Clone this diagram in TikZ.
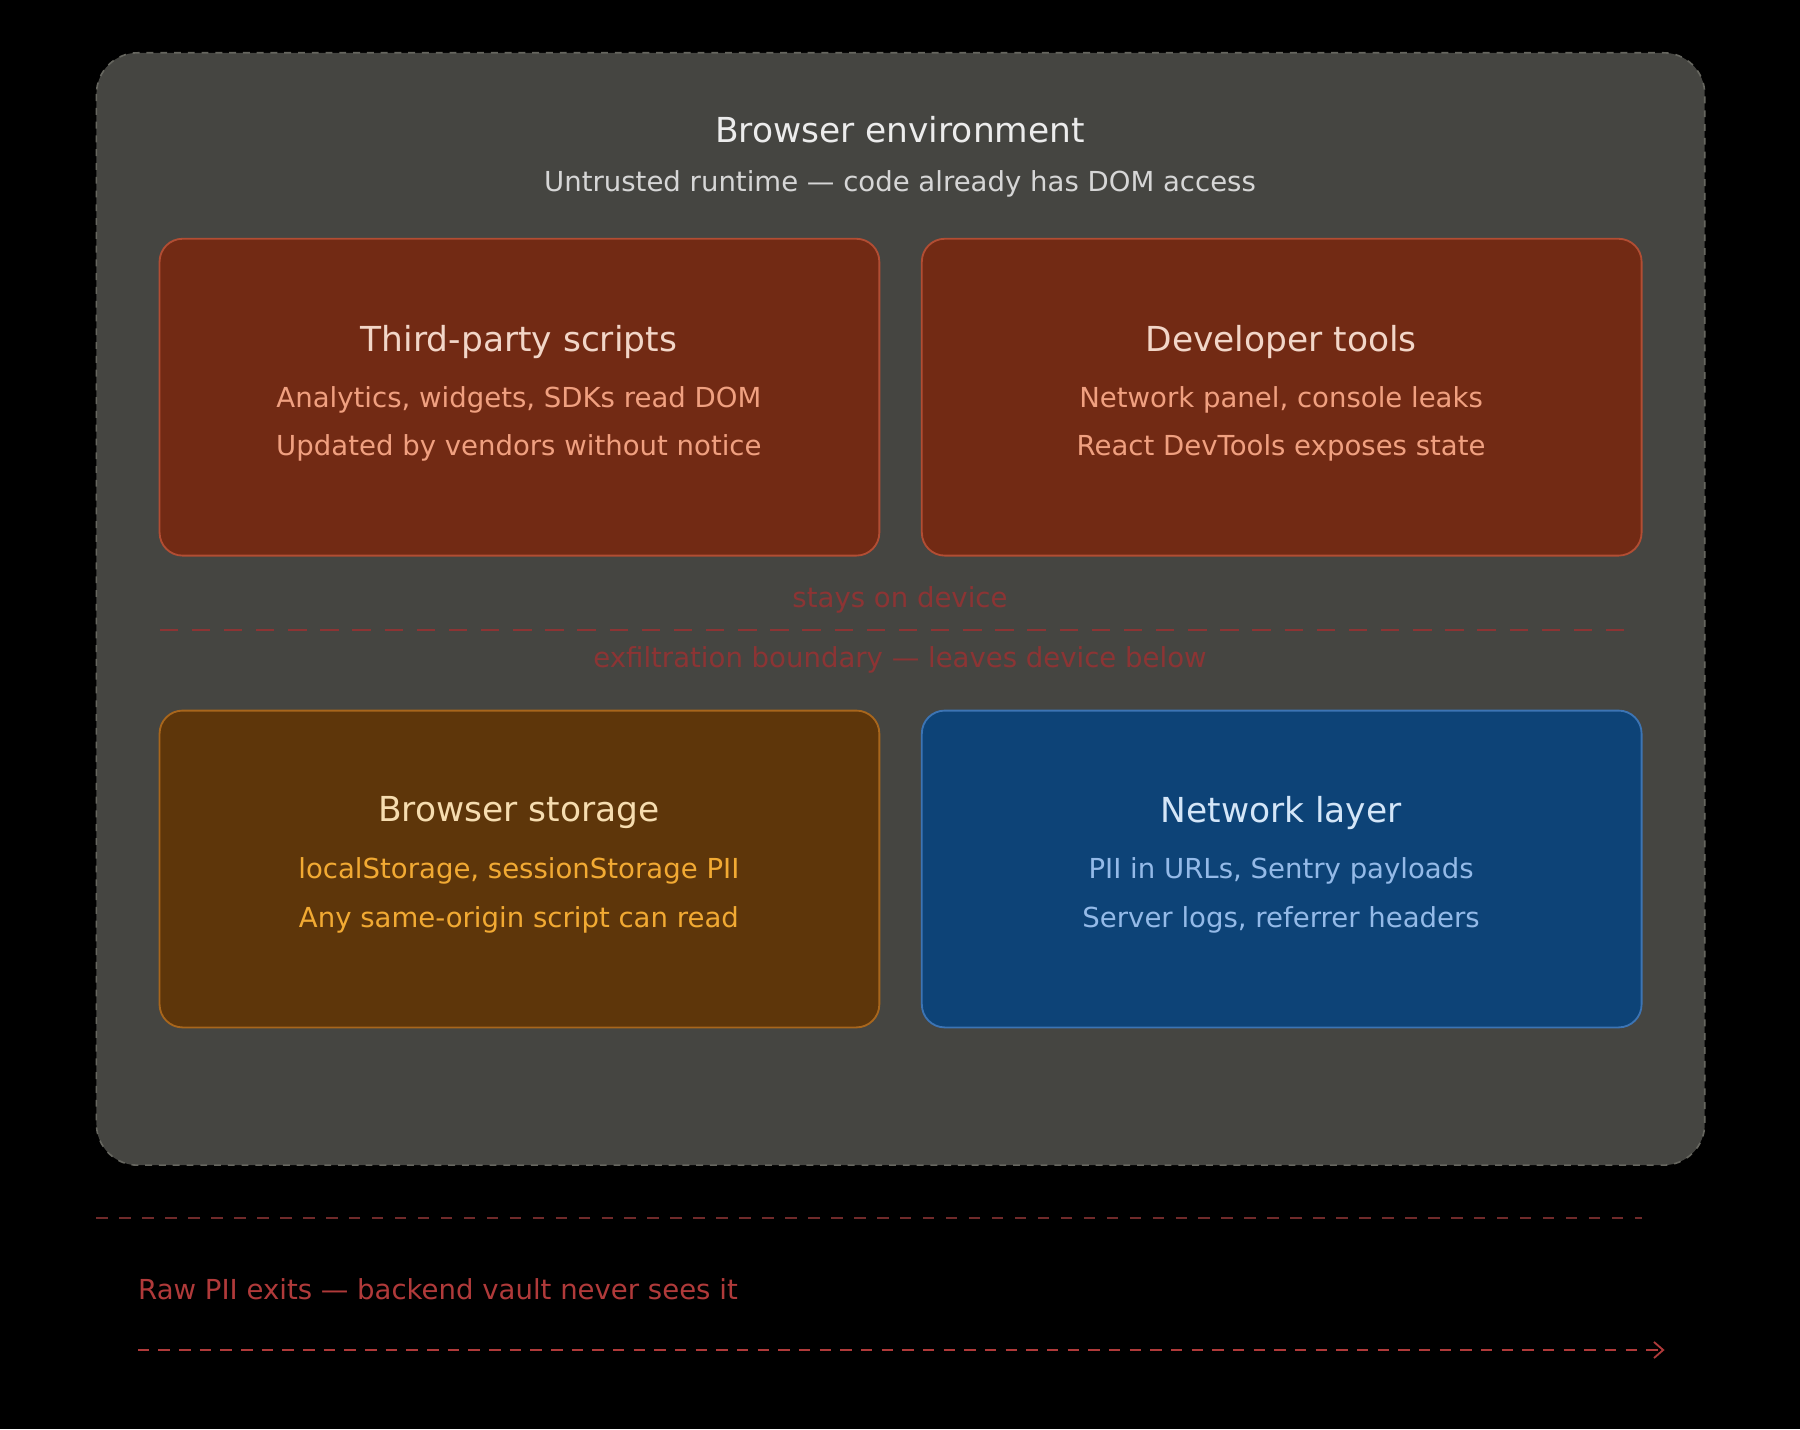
\documentclass[tikz,border=0pt]{standalone}
\usepackage{fontspec}
\setmainfont{DejaVu Sans}
\usetikzlibrary{arrows.meta}
\definecolor{bg}{HTML}{000000}
\definecolor{envfill}{HTML}{454541}
\definecolor{envline}{HTML}{66665f}
\definecolor{redfill}{HTML}{722A14}
\definecolor{redline}{HTML}{B24D33}
\definecolor{redtitle}{HTML}{F2D6C8}
\definecolor{redtext}{HTML}{F0A080}
\definecolor{orfill}{HTML}{5E360A}
\definecolor{orline}{HTML}{A8661C}
\definecolor{ortitle}{HTML}{F6DDB0}
\definecolor{ortext}{HTML}{F2AA33}
\definecolor{blfill}{HTML}{0D4377}
\definecolor{blline}{HTML}{3C74B4}
\definecolor{bltitle}{HTML}{D4E6F8}
\definecolor{bltext}{HTML}{94BAE8}
\definecolor{warn}{HTML}{8C3434}
\definecolor{exit}{HTML}{B03A3A}
\begin{document}
\begin{tikzpicture}[x=0.5pt,y=-0.5pt,
  card/.style={rounded corners=10pt,line width=0.8pt},
  ttl/.style={font=\fontsize{15}{18}\selectfont},
  txt/.style={font=\fontsize{12}{14}\selectfont}]
\fill[bg] (0,0) rectangle (1568,1245);
\useasboundingbox (0,0) rectangle (1568,1245);
\draw[fill=envfill,draw=envline,dashed,rounded corners=18pt,line width=0.7pt] (84,46) rectangle (1485,1015);
\node[ttl,text=white!85!gray] (et) at (784,113) {Browser environment};
\node[txt,text=white!68!gray] (es) at (784,160) {Untrusted runtime — code already has DOM access};
% cards
\draw[card,fill=redfill,draw=redline] (139,208) rectangle (766,484);
\draw[card,fill=redfill,draw=redline] (803,208) rectangle (1430,484);
\draw[card,fill=orfill,draw=orline] (139,619) rectangle (766,895);
\draw[card,fill=blfill,draw=blline] (803,619) rectangle (1430,895);
\node[ttl,text=redtitle] (a1) at (452,298) {Third-party scripts};
\node[txt,text=redtext] (a2) at (452,348) {Analytics, widgets, SDKs read DOM};
\node[txt,text=redtext] (a3) at (452,390) {Updated by vendors without notice};
\node[ttl,text=redtitle] (b1) at (1116,298) {Developer tools};
\node[txt,text=redtext] (b2) at (1116,348) {Network panel, console leaks};
\node[txt,text=redtext] (b3) at (1116,390) {React DevTools exposes state};
\node[ttl,text=ortitle] (c1) at (452,708) {Browser storage};
\node[txt,text=ortext] (c2) at (452,759) {localStorage, sessionStorage PII};
\node[txt,text=ortext] (c3) at (452,801) {Any same-origin script can read};
\node[ttl,text=bltitle] (d1) at (1116,708) {Network layer};
\node[txt,text=bltext] (d2) at (1116,759) {PII in URLs, Sentry payloads};
\node[txt,text=bltext] (d3) at (1116,801) {Server logs, referrer headers};
% boundary
\node[txt,text=warn] (s1) at (784,523) {stays on device};
\coordinate (bl) at (139,549); \coordinate (br) at (1420,549);
\draw[warn,dash pattern=on 8pt off 6pt,line width=0.9pt] (bl) -- (br);
\node[txt,text=warn] (s2) at (784,575) {exfiltration boundary — leaves device below};
% bottom
\coordinate (ll) at (84,1061); \coordinate (lr) at (1430,1061);
\draw[warn!80!black,dash pattern=on 5pt off 5pt,line width=0.8pt] (ll) -- (lr);
\node[txt,text=exit,anchor=west,inner sep=0] (r) at (120,1123) {Raw PII exits — backend vault never sees it};
\coordinate (al) at (120,1176); \coordinate (ar) at (1450,1176);
\draw[exit,dash pattern=on 5pt off 4pt,line width=0.8pt,-{Straight Barb[length=4pt,width=7pt]}] (al) -- (ar);
\end{tikzpicture}
\end{document}
